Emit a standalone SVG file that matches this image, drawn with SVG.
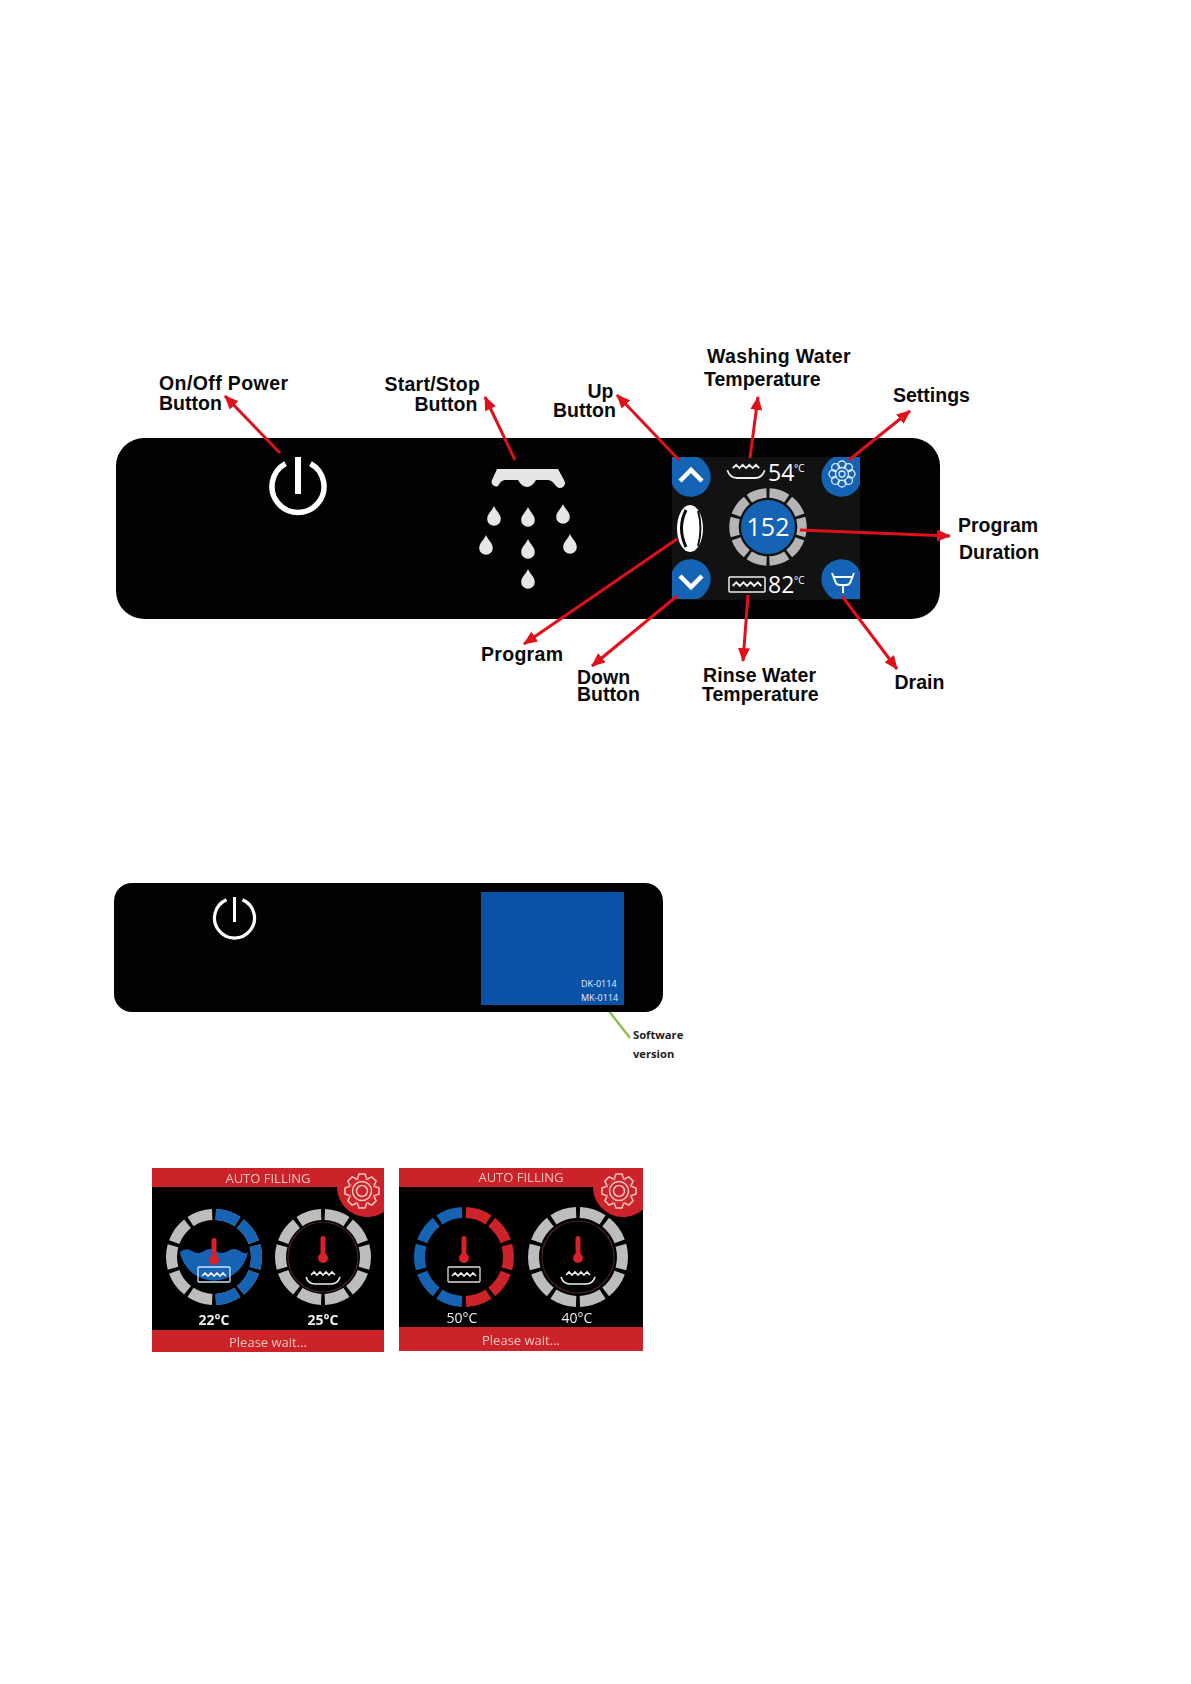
<svg xmlns="http://www.w3.org/2000/svg" width="1191" height="1684" viewBox="0 0 1191 1684">
<style>
.lbl{font-family:"Liberation Sans",Arial,sans-serif;font-weight:700;font-size:19.5px;fill:#0a0a0a}
.ar{stroke:#e0101a;stroke-width:3;fill:none;marker-end:url(#ah)}
.ui{font-family:"Open Sans","Noto Sans",sans-serif;fill:#fff}
.hd{font-family:"Open Sans","Noto Sans",sans-serif;font-size:13px;fill:#f6c9bf;text-anchor:middle}
.tmp{font-family:"Open Sans","Noto Sans",sans-serif;font-size:14px;fill:#eee;text-anchor:middle}
.seg{fill:none;stroke-width:11;stroke-dasharray:31 5;stroke-dashoffset:-2.5}
.half{fill:none;stroke-width:11;stroke-dasharray:31 5 31 5 31 5 31 5 31 5 0 180;stroke-dashoffset:-2.5}
.pw{fill:none;stroke:#fff;stroke-linecap:butt}
.wv{fill:none;stroke:#eee;stroke-width:1.6}
.dr{fill:#e6e6e6}
.btn{fill:#1463b4}
.soft{filter:url(#b)}
.ck{fill:#cc2029}
.cs{fill:none;stroke:#f6c9bf;stroke-width:1.5}
</style>
<defs>
<filter id="b" filterUnits="userSpaceOnUse" x="0" y="0" width="1191" height="1684"><feGaussianBlur stdDeviation="0.45"/></filter>
<marker id="ah" markerUnits="userSpaceOnUse" markerWidth="14" markerHeight="12" refX="13" refY="6" orient="auto"><path d="M0 0L14 6L0 12Z" fill="#e0101a"/></marker>
<path id="drop" d="M0-10C2-5 6.800-2 6.800 3A6.800 6.800 0 0 1-6.800 3C-6.800-2-2-5 0-10Z"/>
<path id="wave" d="M-12 0l3-3 3 3 3-3 3 3 3-3 3 3 3-3 3 3"/>
<g id="therm"><rect x="-2.500" y="-19" width="5" height="20" rx="2.500" fill="#d8202a"/><circle cy="3" r="5" fill="#d8202a"/></g>
<g id="tooth"><path class="ck" d="M-4.500-12L-3-17H3L4.500-12Z"/><path class="cs" d="M-4.500-12.800L-3-17H3L4.500-12.800"/></g>
<g id="cog">
<circle r="13" class="cs"/>
<use href="#tooth"/><use href="#tooth" transform="rotate(45)"/><use href="#tooth" transform="rotate(90)"/><use href="#tooth" transform="rotate(135)"/><use href="#tooth" transform="rotate(180)"/><use href="#tooth" transform="rotate(225)"/><use href="#tooth" transform="rotate(270)"/><use href="#tooth" transform="rotate(315)"/>
<circle r="9.500" class="cs"/><circle r="5.500" class="cs"/>
</g>
<g id="bowl"><use href="#wave" class="wv" y="1"/><path class="wv" d="M-17 3C-15 9-11 10-8 10H8C11 10 15 9 17 3"/></g>
</defs>
<rect width="1191" height="1684" fill="#fff"/>

<g id="panel-main">
<rect x="116" y="438" width="824" height="181" rx="28" fill="#020205"/>
<g id="power-icon"><path class="pw" stroke-width="5.500" d="M285.500 463.700A26 26 0 1 0 310.500 463.700"/><path class="pw" stroke-width="6" d="M298 457V494"/></g>
<g id="shower-icon" class="dr">
<path d="M497 469H558L564 480A4.500 4.500 0 0 1 556 486Q552 480 548 480H536Q532 487 527 487T518 480H505Q501 480 498 486A4.500 4.500 0 0 1 492 480Z"/>
<use href="#drop" x="494" y="516"/><use href="#drop" x="528" y="517"/><use href="#drop" x="563" y="514"/>
<use href="#drop" x="486" y="545"/><use href="#drop" x="528" y="549"/><use href="#drop" x="570" y="544"/>
<use href="#drop" x="528" y="579"/>
</g>
<rect id="screen" x="672" y="457" width="188" height="143" fill="#121212"/>
<g id="btn-up"><path class="btn" d="M672 457H698Q703 459 706 464A20 20 0 1 1 672 484Z"/><path d="M680 481L691 470L702 481" fill="none" stroke="#fff" stroke-width="4.500"/></g>
<g id="btn-down"><path class="btn" d="M672 599H698Q703 597 706 592A20 20 0 1 0 672 572Z"/><path d="M680 576L691 587L702 576" fill="none" stroke="#fff" stroke-width="4.500"/></g>
<g id="btn-settings"><path class="btn" d="M860 457H834Q829 459 826 464A20 20 0 1 0 860 484Z"/>
<g transform="translate(842 474)" fill="none" stroke="#dfeafa" stroke-width="1.300"><circle cy="-9" r="4"/><circle cx="6.400" cy="-6.400" r="4"/><circle cx="9" r="4"/><circle cx="6.400" cy="6.400" r="4"/><circle cy="9" r="4"/><circle cx="-6.400" cy="6.400" r="4"/><circle cx="-9" r="4"/><circle cx="-6.400" cy="-6.400" r="4"/><circle r="6.500" fill="#1463b4"/><circle r="3"/></g></g>
<g id="btn-drain"><path class="btn" d="M860 599H834Q829 597 826 592A20 20 0 1 1 860 572Z"/><path d="M832 573L836 583Q837 585 840 585H846Q849 585 850 583L854 573M833 577H853M843 585V593" fill="none" stroke="#fff" stroke-width="2"/></g>
<g id="program-icon"><ellipse cx="690" cy="528.500" rx="13" ry="23.500" fill="#fff"/><path d="M686 510Q677 528 686 547" fill="none" stroke="#0a0a0a" stroke-width="3"/><path d="M698 511Q703 528 698 546" fill="none" stroke="#111" stroke-width="2"/></g>
<g id="duration"><circle cx="768" cy="527" r="34" pathLength="360" fill="none" stroke="#b5b5b5" stroke-width="9.500" stroke-dasharray="31 5" stroke-dashoffset="-2.500" transform="rotate(-90 768 527)"/><circle cx="768" cy="527" r="27" fill="#1463b4"/><text class="ui" x="768" y="536" font-size="25" text-anchor="middle">152</text></g>
<g id="wash-temp"><use href="#bowl" transform="translate(746 467) scale(1.100)"/><text class="ui" x="768" y="481" font-size="23">54</text><text class="ui" x="794" y="472" font-size="10">°C</text></g>
<g id="rinse-temp"><rect x="729" y="577" width="36" height="15" rx="1" fill="none" stroke="#eee" stroke-width="1.500"/><use href="#wave" class="wv" transform="translate(747 586) scale(1.200)"/><text class="ui" x="768" y="593" font-size="23">82</text><text class="ui" x="794" y="584" font-size="10">°C</text></g>
</g>

<g id="connectors">
<path class="ar" d="M280 453L225 396"/>
<path class="ar" d="M515 460L485 397"/>
<path class="ar" d="M679 460L617 395"/>
<path class="ar" d="M750 458L758 397"/>
<path class="ar" d="M849 460L910 411"/>
<path class="ar" d="M800 530L950 536"/>
<path class="ar" d="M842 596L897 669"/>
<path class="ar" d="M748 595L743 661"/>
<path class="ar" d="M677 596L592 666"/>
<path class="ar" d="M677 539L524 644"/>
<path d="M605 1006L630 1038" fill="none" stroke="#8cc152" stroke-width="2.400"/>
</g>

<g id="labels">
<text class="lbl" x="159" y="390" letter-spacing="0.400">On/Off Power</text><text class="lbl" x="159" y="410">Button</text>
<text class="lbl" x="384.500" y="390.500" letter-spacing="0.250">Start/Stop</text><text class="lbl" x="414.500" y="410.500">Button</text>
<text class="lbl" x="587.500" y="398">Up</text><text class="lbl" x="553" y="417">Button</text>
<text class="lbl" x="707" y="362.500" letter-spacing="0.350">Washing Water</text><text class="lbl" x="704" y="386">Temperature</text>
<text class="lbl" x="893" y="401.500">Settings</text>
<text class="lbl" x="958" y="532">Program</text><text class="lbl" x="959" y="558.500">Duration</text>
<text class="lbl" x="481" y="661" letter-spacing="0.300">Program</text>
<text class="lbl" x="577" y="684">Down</text><text class="lbl" x="577" y="701">Button</text>
<text class="lbl" x="703" y="682" letter-spacing="0.100">Rinse Water</text><text class="lbl" x="702" y="701">Temperature</text>
<text class="lbl" x="894.500" y="689" font-size="19">Drain</text>
</g>

<g id="panel-version">
<rect x="114" y="883" width="549" height="129" rx="18" fill="#020204"/>
<g class="soft"><path class="pw" stroke-width="3.200" d="M226.500 899.700A20 20 0 1 0 242.500 899.700"/><path class="pw" stroke-width="3" d="M234.500 897V922"/></g>
<rect x="481" y="892" width="143" height="113" fill="#0a52a5"/>
<text x="581" y="987" font-family="Open Sans,sans-serif" font-size="9" fill="#e6eefa">DK-0114</text>
<text x="581" y="1001" font-family="Open Sans,sans-serif" font-size="9" fill="#e6eefa">MK-0114</text>
<text x="633" y="1039" font-family="Open Sans,sans-serif" font-weight="700" font-size="11.200" fill="#222">Software</text>
<text x="633" y="1058" font-family="Open Sans,sans-serif" font-weight="700" font-size="11.200" fill="#222">version</text>
</g>

<g id="screen-filling-a" class="soft">
<rect x="152" y="1168" width="232" height="184" fill="#000"/>
<rect class="ck" x="152" y="1168" width="232" height="19"/><rect class="ck" x="152" y="1330" width="232" height="22"/>
<path class="ck" d="M337 1187A30 30 0 0 0 384 1211.700V1187Z"/>
<use href="#cog" x="362" y="1191"/>
<text class="hd" x="268" y="1183">AUTO FILLING</text><text class="hd" x="268" y="1347">Please wait...</text>
<circle cx="214" cy="1257" r="42.500" pathLength="360" class="seg" stroke="#bdbdbd" transform="rotate(-90 214 1257)"/>
<circle cx="214" cy="1257" r="42.500" pathLength="360" class="half" stroke="#1463b4" transform="rotate(-90 214 1257)"/>
<path d="M180 1252Q186 1247 192 1251T204 1251T216 1251T228 1251T240 1251T248 1252A34.500 34.500 0 0 1 180 1252Z" fill="#1463b4"/>
<use href="#therm" x="214" y="1257"/>
<rect x="198" y="1267" width="32" height="15" rx="1" fill="none" stroke="#cfe3fa" stroke-width="1.300"/><use href="#wave" class="wv" transform="translate(214 1276)"/>
<text class="tmp" x="214" y="1325" font-weight="700">22°C</text>
<circle cx="323" cy="1257" r="42.500" pathLength="360" class="seg" stroke="#bdbdbd" transform="rotate(-90 323 1257)"/>
<circle cx="323" cy="1257" r="35" fill="none" stroke="#4a2226" stroke-width="1.200"/>
<use href="#therm" x="323" y="1255"/><use href="#bowl" x="323" y="1274"/>
<text class="tmp" x="323" y="1325" font-weight="700">25°C</text>
</g>

<g id="screen-filling-b" class="soft">
<rect x="399" y="1168" width="244" height="183" fill="#000"/>
<rect class="ck" x="399" y="1168" width="244" height="19"/><rect class="ck" x="399" y="1327" width="244" height="24"/>
<path class="ck" d="M593 1187A30 30 0 0 0 643 1209.400V1187Z"/>
<use href="#cog" x="619" y="1191"/>
<text class="hd" x="521" y="1182">AUTO FILLING</text><text class="hd" x="521" y="1345">Please wait...</text>
<circle cx="464" cy="1257" r="44.500" pathLength="360" class="half" stroke="#cc2029" transform="rotate(-90 464 1257)"/>
<circle cx="464" cy="1257" r="44.500" pathLength="360" class="half" stroke="#1463b4" transform="rotate(90 464 1257)"/>
<use href="#therm" x="464" y="1255"/>
<rect x="448" y="1267" width="32" height="15" rx="1" fill="none" stroke="#ddd" stroke-width="1.300"/><use href="#wave" class="wv" transform="translate(464 1276)"/>
<text class="tmp" x="462" y="1323">50°C</text>
<circle cx="578" cy="1257" r="44.500" pathLength="360" class="seg" stroke="#bdbdbd" transform="rotate(-90 578 1257)"/>
<circle cx="578" cy="1257" r="36" fill="none" stroke="#4a2226" stroke-width="1.200"/>
<use href="#therm" x="578" y="1255"/><use href="#bowl" x="578" y="1274"/>
<text class="tmp" x="577" y="1323">40°C</text>
</g>
</svg>
